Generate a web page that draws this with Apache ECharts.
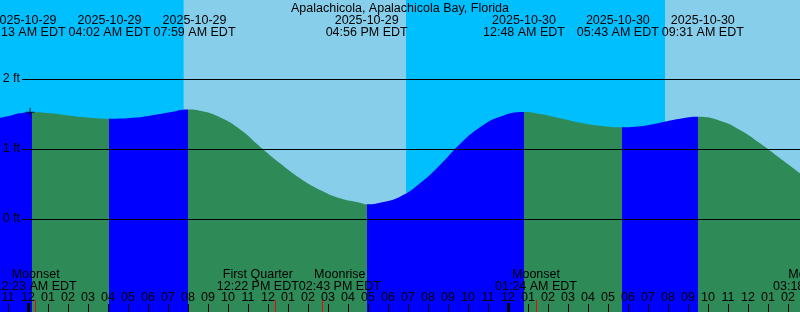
<!DOCTYPE html>
<html><head><meta charset="utf-8">
<script src="https://cdn.jsdelivr.net/npm/echarts@6/dist/echarts.min.js"></script>
<style>html,body{margin:0;padding:0;background:#fff}#c{width:800px;height:312px}</style>
</head><body><div id="c"></div>
<script>
// ---------- data (hours since 2025-10-29 00:00 EDT) ----------
const chartTitle = 'Apalachicola, Apalachicola Bay, Florida';
const tideHours = [-1.4,-0.9,-0.4,0.217,1.1,2.1,3.1,4.033,5.1,6.1,7.1,7.983,8.6,9.6,10.6,11.6,12.6,13.6,14.6,15.6,16.6,16.933,17.6,18.6,19.6,20.6,21.6,22.6,23.6,24.8,25.6,26.6,27.6,28.6,29.717,30.6,31.6,32.6,33.517,34.6,35.6,36.6,37.6,38.6];
const tideFeet  = [1.447,1.476,1.510,1.524,1.510,1.476,1.447,1.433,1.443,1.476,1.524,1.564,1.547,1.453,1.281,1.033,0.796,0.581,0.414,0.296,0.233,0.211,0.233,0.319,0.510,0.771,1.071,1.310,1.461,1.529,1.500,1.439,1.376,1.333,1.310,1.324,1.376,1.433,1.461,1.404,1.271,1.081,0.867,0.653];
const eventHours = [0.217, 4.033, 7.983, 16.933, 24.8, 29.717, 33.517];
const eventKinds = ['H','L','H','L','H','L','H'];
const eventDates = ['2025-10-29','2025-10-29','2025-10-29','2025-10-29','2025-10-30','2025-10-30','2025-10-30'];
const eventTimes = ['12:13 AM EDT','04:02 AM EDT','07:59 AM EDT','04:56 PM EDT','12:48 AM EDT','05:43 AM EDT','09:31 AM EDT'];
const moonHours = [0.383, 12.367, 14.717, 25.4, 39.3];
const moonNames = ['Moonset','First Quarter','Moonrise','Moonset','Moonrise'];
const moonTimes = ['12:23 AM EDT','12:22 PM EDT','02:43 PM EDT','01:24 AM EDT','03:18 PM EDT'];
const sunChangeHours = [7.78, 18.9, 31.85];      // sunrise, sunset, sunrise
const hourTicks = [];
for (let h = -1; h <= 38; h++) hourTicks.push(h);
const midnightTicks = [0, 24];
const levelTicks = [0, 1, 2];
const nowMark = [0.1, 1.524];

// ---------- layout / style ----------
const hourMin = -1.4, hourMax = 38.6, pxPerHour = 20;
const ftMin = -1.3286, ftMax = 3.1286;
const levelLineStart = -0.3;
const FONT = 'Liberation Sans', FS = 12.5;
const NIGHT = '#00BFFF', DAY = '#87CEEB', FLOOD = '#0000FF', EBB = '#2E8B57';

// water colour pieces (rising = flood, falling = ebb)
const pieces = [];
let prev = null;
eventHours.forEach((h, i) => {
  const p = {lt: h, color: eventKinds[i] === 'H' ? FLOOD : EBB};
  if (prev !== null) p.gte = prev;
  pieces.push(p);
  prev = h;
});
pieces.push({gte: prev, color: eventKinds[eventKinds.length-1] === 'H' ? EBB : FLOOD});

// sky areas
const bounds = [hourMin].concat(sunChangeHours, [hourMax]);
const skyAreas = [];
for (let i = 0; i < bounds.length - 1; i++) {
  skyAreas.push([{xAxis: bounds[i], itemStyle: {color: i % 2 === 0 ? NIGHT : DAY}}, {xAxis: bounds[i+1]}]);
}

// push overlapping labels apart (symmetric), like the original tide graph
const ctx = document.createElement('canvas').getContext('2d');
ctx.font = FS + 'px "' + FONT + '"';
function spread(hours, lines1, lines2, pad) {
  const c = hours.slice();
  const w = hours.map((_, i) => (Math.max(ctx.measureText(lines1[i]).width, ctx.measureText(lines2[i]).width) + pad) / pxPerHour);
  for (let it = 0; it < 300; it++) {
    for (let i = 0; i < c.length - 1; i++) {
      const ov = (c[i] + w[i] / 2) - (c[i+1] - w[i+1] / 2);
      if (ov > 1e-6) { c[i] -= ov / 2; c[i+1] += ov / 2; }
    }
  }
  return c;
}
const eventLabelPos = spread(eventHours, eventDates, eventTimes, 3);
const moonLabelPos = spread(moonHours, moonNames, moonTimes, 0);

const fmtHour = v => { let h = ((Math.round(v) % 12) + 12) % 12; if (h === 0) h = 12; return (h < 10 ? '0' : '') + h; };
const lookup = (arr, v) => { let best = -1, bd = 1e-3; arr.forEach((a, i) => { if (Math.abs(a - v) < bd) { bd = Math.abs(a - v); best = i; } }); return best; };
const txt = {color: '#000', fontFamily: FONT, fontSize: FS, hideOverlap: false};
const noLine = {show: false, onZero: false};

const chart = echarts.init(document.getElementById('c'));
chart.setOption({
  animation: false,
  backgroundColor: NIGHT,
  title: {text: chartTitle, left: 'center', top: 2, padding: 0, z: 20,
          textStyle: {color: '#000', fontFamily: FONT, fontSize: FS, fontWeight: 'normal'}},
  grid: [
    {left: 0, right: 0, top: 0, bottom: 0, containLabel: false, outerBoundsMode: 'none'},
    {left: 0, right: -40, top: 0, bottom: 0, containLabel: false, outerBoundsMode: 'none'}
  ],
  xAxis: [
    {type: 'value', gridIndex: 0, min: hourMin, max: hourMax, position: 'bottom', z: 10,
     axisLine: noLine, splitLine: {show: false},
     axisTick: {show: true, inside: true, length: 8, customValues: hourTicks, lineStyle: {color: '#000', width: 1}},
     axisLabel: Object.assign({show: true, inside: true, margin: 8, showMinLabel: true, showMaxLabel: true,
       customValues: hourTicks, formatter: fmtHour}, txt)},
    {type: 'value', gridIndex: 0, min: hourMin, max: hourMax, position: 'bottom', z: 11,
     axisLine: noLine, splitLine: {show: false},
     axisTick: {show: true, inside: true, length: 9, customValues: midnightTicks, lineStyle: {color: '#000', width: 3}},
     axisLabel: {show: false}},
    {type: 'value', gridIndex: 1, min: hourMin, max: hourMax + 2, position: 'bottom', z: 12,
     axisLine: noLine, splitLine: {show: false},
     axisTick: {show: true, inside: true, length: 12, customValues: moonHours, lineStyle: {color: '#ff0000', width: 1}},
     axisLabel: Object.assign({show: true, inside: true, margin: 20, lineHeight: 11.5, showMinLabel: true, showMaxLabel: true,
       customValues: moonLabelPos,
       formatter: v => { const i = lookup(moonLabelPos, v); return i < 0 ? ' ' : moonNames[i] + '\n' + moonTimes[i]; }}, txt)},
    {type: 'value', gridIndex: 0, min: hourMin, max: hourMax, position: 'top', z: 10,
     axisLine: noLine, splitLine: {show: false}, axisTick: {show: false},
     axisLabel: Object.assign({show: true, inside: true, margin: 15, lineHeight: 12, showMinLabel: false, showMaxLabel: false,
       customValues: [hourMin + 0.01].concat(eventLabelPos, [hourMax - 0.01]),
       formatter: v => { const i = lookup(eventLabelPos, v); return i < 0 ? ' ' : eventDates[i] + '\n' + eventTimes[i]; }}, txt)}
  ],
  yAxis: [
    {type: 'value', gridIndex: 0, min: ftMin, max: ftMax, show: false},
    {type: 'value', gridIndex: 1, min: 0, max: 1, show: false}
  ],
  visualMap: {type: 'piecewise', show: false, dimension: 0, seriesIndex: 0, pieces: pieces},
  series: [
    {type: 'line', xAxisIndex: 0, yAxisIndex: 0, z: 2,
     data: tideHours.map((h, i) => [h, tideFeet[i]]),
     smooth: 0.5, showSymbol: false, symbol: 'none',
     lineStyle: {width: 0}, areaStyle: {opacity: 1, origin: 'start'},
     markArea: {silent: true, z: 1, data: skyAreas},
     markLine: {silent: true, z: 5, symbol: ['none','none'],
       lineStyle: {color: '#000', width: 1, type: 'solid'},
       label: {show: true, position: 'start', distance: 2, formatter: '{b}', color: '#000', fontFamily: FONT, fontSize: FS, padding: [3, 0, 0, 0]},
       emphasis: {disabled: true},
       data: levelTicks.map(v => [{coord: [levelLineStart, v], name: v + ' ft'}, {coord: [hourMax, v]}])}
    },
    {type: 'scatter', xAxisIndex: 0, yAxisIndex: 0, z: 6, data: [nowMark],
     symbol: 'path://M4,0H5V4H9V5H5V9H4V5H0V4H4Z', symbolSize: 9, itemStyle: {color: '#000'}}
  ]
});
</script></body></html>
